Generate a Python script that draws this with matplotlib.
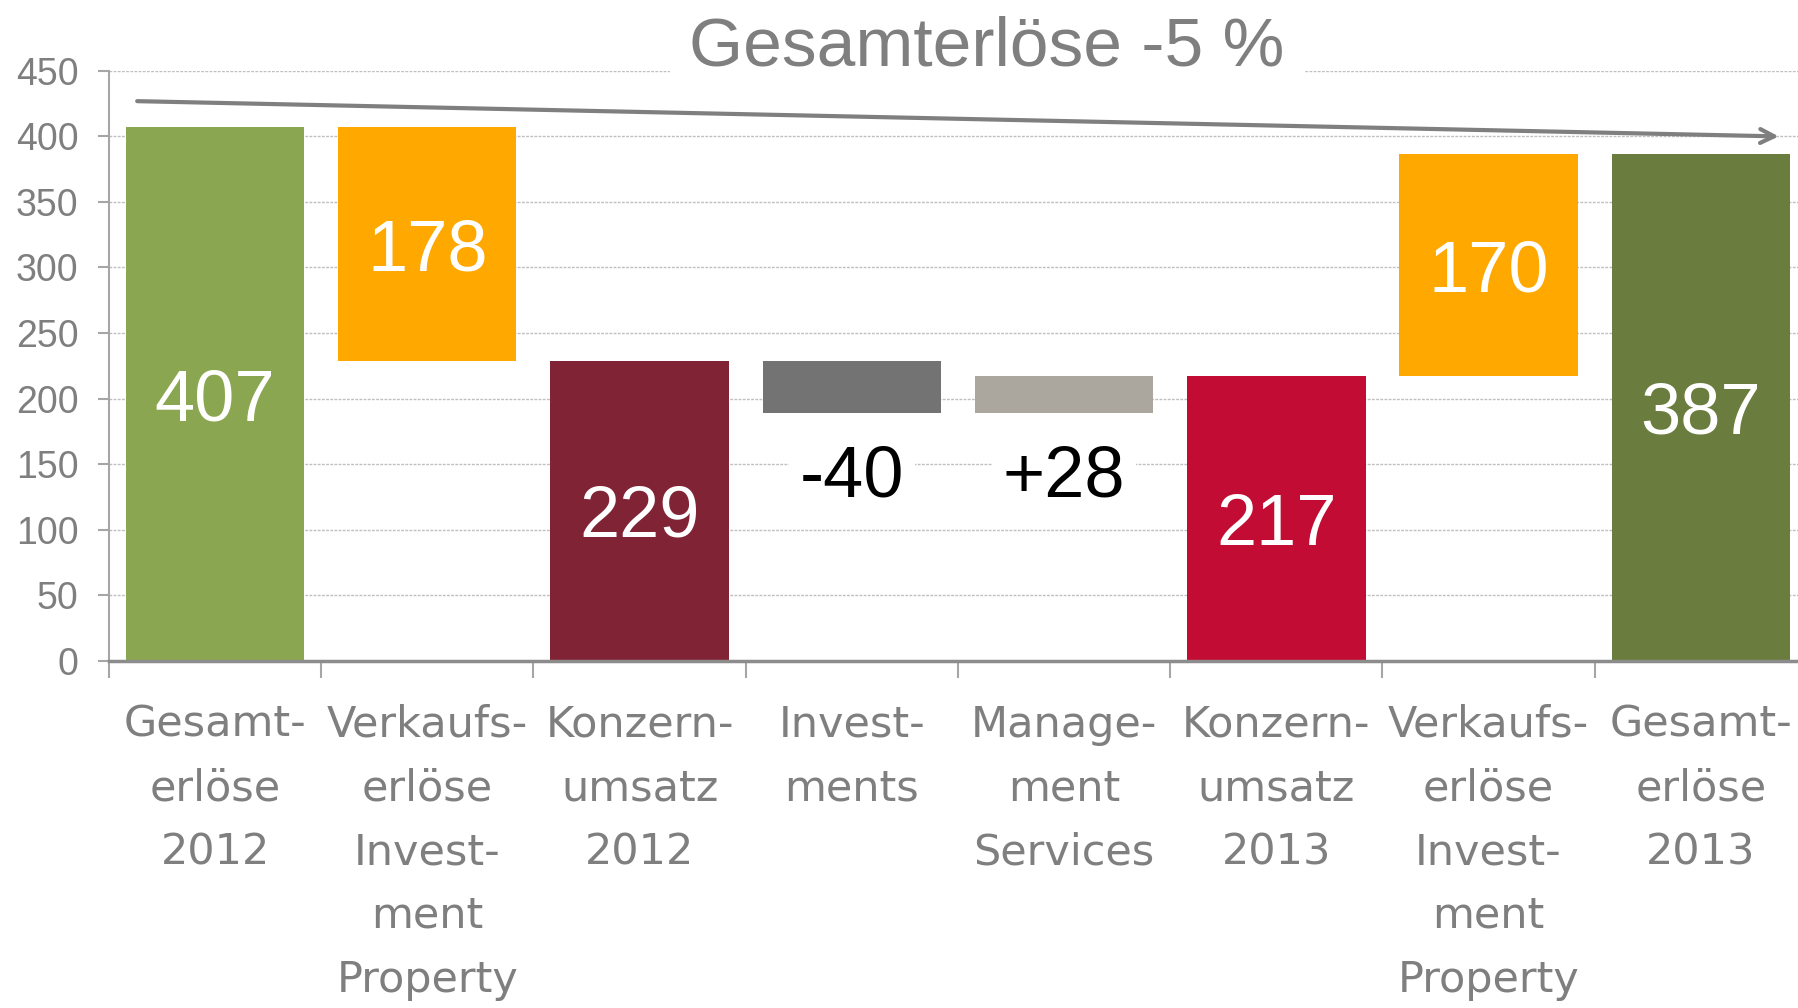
import numpy as np
import matplotlib
matplotlib.use("Agg")
import matplotlib.pyplot as plt

# data
categories = ["Gesamt-\nerlöse\n2012", "Verkaufs-\nerlöse\nInvest-\nment\nProperty",
              "Konzern-\numsatz\n2012", "Invest-\nments", "Manage-\nment\nServices",
              "Konzern-\numsatz\n2013", "Verkaufs-\nerlöse\nInvest-\nment\nProperty",
              "Gesamt-\nerlöse\n2013"]
bar_bottoms = [0, 229, 0, 189, 189, 0, 217, 0]
bar_tops = [407, 407, 229, 229, 217, 217, 387, 387]
value_labels = ["407", "178", "229", "-40", "+28", "217", "170", "387"]
colors = ["#8BA650", "#FFA800", "#7F2335", "#737373", "#ABA69E", "#C30C34", "#FFA800", "#6B7D3E"]
y_ticks = [0, 50, 100, 150, 200, 250, 300, 350, 400, 450]
title = "Gesamterlöse -5 %"

font = "Liberation Sans"
grey = "#7F7F7F"
fig = plt.figure(figsize=(17.98, 10.08), dpi=100)
ax = fig.add_axes([0.0606, 0.3447, 0.9444, 0.5849])

x = np.arange(len(categories))
heights = np.array(bar_tops) - np.array(bar_bottoms)
ax.bar(x, heights, bottom=bar_bottoms, width=0.84, color=colors, zorder=2)

ax.set_xlim(-0.5, len(categories) - 0.5)
ax.set_ylim(0, 450)
ax.set_yticks(y_ticks)
ax.set_yticklabels([str(v) for v in y_ticks], fontsize=27, color=grey, family=font)
ax.tick_params(axis="y", length=8, width=1.5, color="#A6A6A6", pad=14)
ax.grid(axis="y", color="#BFBFBF", linestyle=(0, (2, 1)), linewidth=1, zorder=0)

ax.set_xticks(x)
ax.set_xticklabels(categories, fontsize=31, color=grey, linespacing=1.66)
ax.tick_params(axis="x", length=0, pad=31)
ax.set_xticks(np.append(x - 0.5, x[-1] + 0.5), minor=True)
ax.tick_params(axis="x", which="minor", length=12, width=1.5, color="#A6A6A6")

for s in ["top", "right"]:
    ax.spines[s].set_visible(False)
ax.spines["left"].set_color("#A6A6A6")
ax.spines["left"].set_linewidth(1.5)
ax.spines["bottom"].set_color("#8C8C8C")
ax.spines["bottom"].set_linewidth(2.5)

for i, lab in enumerate(value_labels):
    if lab[0] in "+-":
        ax.text(i, bar_bottoms[i] - 50, lab, ha="center", va="center", fontsize=52,
                color="black", family=font, zorder=3,
                bbox=dict(facecolor="white", edgecolor="none", pad=8))
    else:
        ax.text(i, (bar_bottoms[i] + bar_tops[i]) / 2 - 6, lab, ha="center", va="center",
                fontsize=52, color="white", family=font, zorder=3)

ax.annotate("", xy=(7.38, 400), xytext=(-0.38, 427),
            arrowprops=dict(arrowstyle="->,head_length=1.0,head_width=0.5", color=grey, lw=3),
            annotation_clip=False, zorder=4)

fig.text(0.549, 0.953, title, ha="center", va="center", fontsize=50, color=grey, family=font,
         bbox=dict(facecolor="white", edgecolor="none", pad=14))

fig.savefig("out.png", dpi=100)
